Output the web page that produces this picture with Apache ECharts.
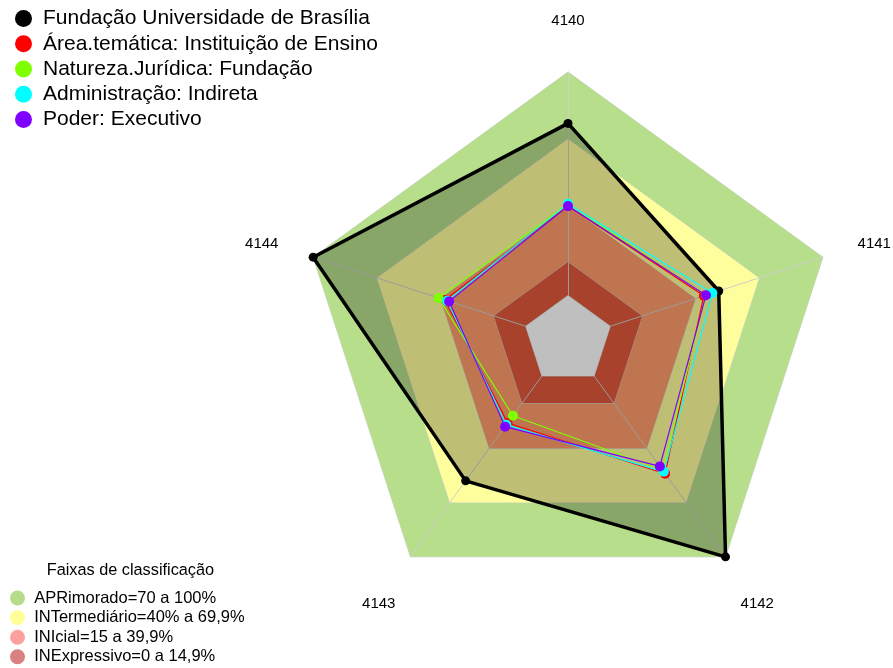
<!DOCTYPE html>
<html>
<head>
<meta charset="utf-8">
<script src="https://cdn.jsdelivr.net/npm/echarts@6/dist/echarts.min.js"></script>
<style>
html, body { margin: 0; padding: 0; background: #fff; }
#main { width: 893px; height: 668px; }
</style>
</head>
<body>
<div id="main"></div>
<script>
// eixos na ordem do original (sentido horário a partir do topo)
var axisNames = ['4140', '4141', '4142', '4143', '4144'];

var seriesNames = [
    'Fundação Universidade de Brasília',
    'Área.temática: Instituição de Ensino',
    'Natureza.Jurídica: Fundação',
    'Administração: Indireta',
    'Poder: Executivo'
];
var unb = [77, 51, 100, 58, 100];
var areaTematica = [40, 44, 54, 26, 38];
var naturezaJuridica = [41, 45, 52, 22, 41];
var administracao = [41, 48, 53, 27, 37];
var poder = [40, 45, 50, 28, 36];
var seriesColors = ['#000000', '#ff0000', '#80ff00', '#00ffff', '#8000ff'];

var bandNames = ['APRimorado=70 a 100%', 'INTermediário=40% a 69,9%', 'INIcial=15 a 39,9%', 'INExpressivo=0 a 14,9%'];
var bandTops = [100, 70, 40, 15];
var bandFill = ['#b6de8b', '#fefe9c', '#ff9d6b', '#e0583b'];
var bandLegend = ['#b5dc8a', '#ffff99', '#ffa0a0', '#d98080'];

var FONT = '"Liberation Sans", Arial, sans-serif';
var cx = 568, cy = 340;

var myChart = echarts.init(document.getElementById('main'));

// echarts desenha o radar no sentido anti-horário, então inverte a ordem
var order = [0, 4, 3, 2, 1];
function reorder(arr) {
    return order.map(function (i) { return arr[i]; });
}
function fill5(v) {
    return axisNames.map(function () { return v; });
}

var series = [];
// faixas de classificação (polígonos opacos empilhados)
bandTops.forEach(function (top, i) {
    series.push({
        name: bandNames[i],
        type: 'radar',
        z: -6 + i,
        silent: true,
        symbol: 'none',
        itemStyle: { color: bandLegend[i] },
        lineStyle: { color: '#d0d0d0', width: 1 },
        areaStyle: { color: bandFill[i], opacity: 1 },
        data: [{ value: reorder(fill5(top)) }]
    });
});
// miolo branco abaixo de 0%
series.push({
    name: 'base',
    type: 'radar',
    z: -1,
    silent: true,
    symbol: 'none',
    lineStyle: { color: '#d0d0d0', width: 1 },
    areaStyle: { color: '#ffffff', opacity: 1 },
    data: [{ value: reorder(fill5(0)) }]
});

var values = [unb, areaTematica, naturezaJuridica, administracao, poder];
values.forEach(function (v, i) {
    var s = {
        name: seriesNames[i],
        type: 'radar',
        z: 2 + i,
        symbol: 'circle',
        symbolSize: i === 0 ? 9 : 10,
        itemStyle: { color: seriesColors[i] },
        lineStyle: { color: seriesColors[i], width: i === 0 ? 3.5 : 1.2 },
        data: [{ value: reorder(v) }]
    };
    if (i === 0) {
        s.areaStyle = { color: 'rgba(0,0,0,0.25)', opacity: 1 };
    }
    series.push(s);
});

// rótulos dos eixos
var labels = axisNames.map(function (n, i) {
    var a = (90 - i * 72) * Math.PI / 180;
    return {
        type: 'text',
        x: cx + 322 * Math.cos(a),
        y: cy - 322 * Math.sin(a) + 3,
        style: {
            text: n,
            font: '15px ' + FONT,
            fill: '#000',
            align: 'center',
            verticalAlign: 'middle'
        }
    };
});

option = {
    animation: false,
    backgroundColor: '#fff',
    title: {
        text: 'Faixas de classificação',
        left: 46.7,
        top: 563,
        padding: 0,
        textStyle: { fontFamily: FONT, fontSize: 16.3, fontWeight: 'normal', color: '#000' }
    },
    legend: [{
        orient: 'vertical',
        left: 15,
        top: 8,
        padding: 0,
        itemWidth: 29,
        itemHeight: 17,
        itemGap: 4.25,
        icon: 'circle',
        selectedMode: false,
        textStyle: { fontFamily: FONT, fontSize: 21, lineHeight: 21, color: '#000' },
        data: seriesNames.map(function (n, i) {
            return { name: n, itemStyle: { color: seriesColors[i], borderWidth: 0 } };
        })
    }, {
        orient: 'vertical',
        left: 10,
        top: 589.5,
        padding: 0,
        height: 76,
        itemWidth: 23.3,
        itemHeight: 15,
        itemGap: 2.6,
        icon: 'circle',
        selectedMode: false,
        textStyle: { fontFamily: FONT, fontSize: 16.5, lineHeight: 16.5, color: '#000' },
        data: bandNames.map(function (n, i) {
            return { name: n, itemStyle: { color: bandLegend[i], borderWidth: 0 } };
        })
    }],
    radar: {
        center: [cx, cy],
        radius: [44.5, 268],
        startAngle: 90,
        splitNumber: 1,
        indicator: reorder(axisNames).map(function (n) {
            return { name: n, min: 0, max: 100 };
        }),
        axisName: { show: false },
        axisLine: { lineStyle: { color: '#cfcfcf', width: 1 } },
        splitLine: { show: false },
        splitArea: { show: false }
    },
    graphic: labels,
    series: series
};

myChart.setOption(option);
</script>
</body>
</html>
